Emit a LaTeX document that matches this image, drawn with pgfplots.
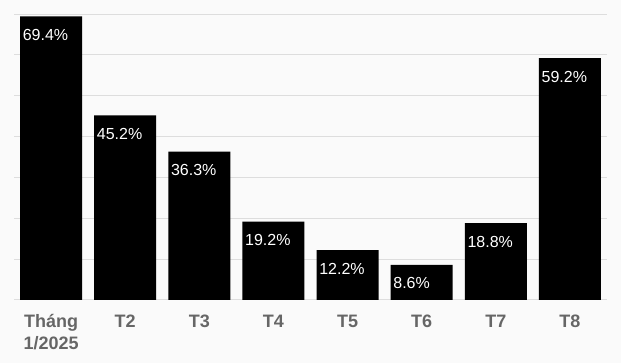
\documentclass[border=0pt]{standalone}
\usepackage{fontspec}
\setmainfont{Liberation Sans}
\usepackage{pgfplots}
\pgfplotsset{compat=1.18}
\definecolor{bgc}{HTML}{FAFAFA}
\definecolor{gridc}{HTML}{DDDDDD}
\definecolor{tickc}{HTML}{666666}
\begin{document}
\begin{tikzpicture}
\fill[bgc] (-14pt,-63pt) rectangle (607pt,300pt);
\begin{axis}[
  at={(0,0)}, anchor=south west,
  scale only axis, width=593pt, height=286pt,
  xmin=-0.5, xmax=7.5, ymin=0, ymax=70,
  enlargelimits=false,
  ybar, bar width=62pt,
  axis x line*=bottom,
  axis y line*=left,
  x axis line style={draw=gridc, line width=1pt, -},
  y axis line style={draw=none},
  xtick={0,1,2,3,4,5,6,7},
  xticklabels={{\strut Tháng\\1/2025},{\strut T2},{\strut T3},{\strut T4},{\strut T5},{\strut T6},{\strut T7},{\strut T8}},
  xticklabel style={anchor=north, inner sep=0pt, yshift=-12pt, align=center, font=\fontsize{18}{22}\selectfont\bfseries, text=tickc},
  major tick length=0pt,
  ytick={10,20,30,40,50,60,70},
  yticklabels={},
  ymajorgrids,
  grid style={draw=gridc, line width=0.8pt},
  /pgf/number format/assume math mode=true,
  nodes near coords={\pgfmathprintnumber[fixed,precision=1,fixed zerofill,assume math mode=true]{\pgfplotspointmeta}\%},
  nodes near coords style={anchor=base west, inner sep=0pt, xshift=-28.5pt, yshift=-24pt, text=white, font=\fontsize{16}{18}\selectfont},
  point meta=explicit,
]
\addplot[fill=black, draw=none] coordinates {
  (0,69.4) [69.4]
  (1,45.2) [45.2]
  (2,36.3) [36.3]
  (3,19.2) [19.2]
  (4,12.2) [12.2]
  (5,8.6) [8.6]
  (6,18.8) [18.8]
  (7,59.2) [59.2]
};
\end{axis}
\end{tikzpicture}
\end{document}
